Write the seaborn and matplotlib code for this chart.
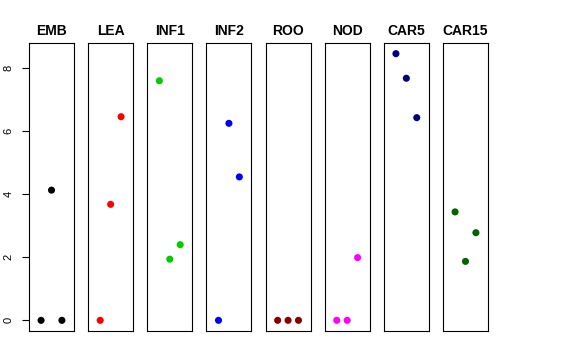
import numpy as np
import pandas as pd
import seaborn as sns
import matplotlib
matplotlib.use("Agg")
import matplotlib.pyplot as plt

# tissue panels and their values at positions 1, 2, 3
tissues = ["EMB", "LEA", "INF1", "INF2", "ROO", "NOD", "CAR5", "CAR15"]
colors = ["#000000", "#FF0000", "#00CD00", "#0000FF",
          "#8B0000", "#FF00FF", "#000080", "#006400"]
positions = [1, 2, 3]
emb = [0.0, 4.13, 0.0]
lea = [0.0, 3.68, 6.46]
inf1 = [7.60, 1.94, 2.40]
inf2 = [0.0, 6.25, 4.55]
roo = [0.0, 0.0, 0.0]
nod = [0.0, 0.0, 1.99]
car5 = [8.46, 7.68, 6.43]
car15 = [3.44, 1.87, 2.78]
series = [emb, lea, inf1, inf2, roo, nod, car5, car15]
yticks = [0, 2, 4, 6, 8]

df = pd.DataFrame({
    "tissue": np.repeat(tissues, len(positions)),
    "pos": positions * len(tissues),
    "value": np.concatenate(series),
})

sns.set_theme(style="white")
plt.rcParams["font.family"] = ["Liberation Sans", "DejaVu Sans"]
plt.rcParams["text.color"] = "black"
plt.rcParams["axes.labelcolor"] = "black"
plt.rcParams["ytick.color"] = "black"

W, H = 576, 360
fig = plt.figure(figsize=(W / 100, H / 100), dpi=100)

ymin, ymax = df["value"].min(), df["value"].max()
yr = ymax - ymin
ylim = (ymin - 0.04 * yr, ymax + 0.04 * yr)

for i, (t, c) in enumerate(zip(tissues, colors)):
    left = 29 + i * 59.14
    ax = fig.add_axes([left / W, (H - 331) / H, 45 / W, 288 / H])
    sub = df[df["tissue"] == t]
    sns.scatterplot(data=sub, x="pos", y="value", color=c, s=26,
                    edgecolor="none", ax=ax, legend=False)
    ax.set_xlim(-0.16, 4.16)
    ax.set_ylim(*ylim)
    ax.set_xlabel("")
    ax.set_ylabel("")
    ax.set_xticks([])
    ax.set_title(t, fontsize=10, fontweight="bold", pad=6, color="black")
    for sp in ax.spines.values():
        sp.set_color("black")
        sp.set_linewidth(0.8)
    if i == 0:
        ax.set_yticks(yticks)
        ax.set_yticklabels([str(v) for v in yticks], rotation=90, va="center",
                           fontsize=8, color="black")
        ax.tick_params(axis="y", left=True, length=5, width=0.8, pad=6, color="black")
    else:
        ax.set_yticks([])

fig.savefig("out.png", dpi=100)
